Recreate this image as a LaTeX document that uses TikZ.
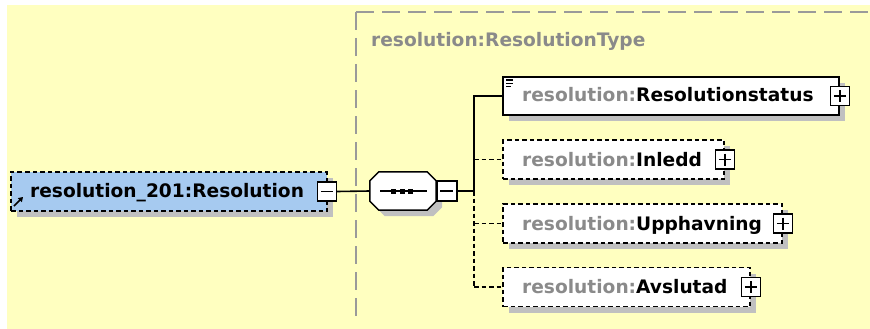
\documentclass[tikz,border=0pt]{standalone}
\usepackage{fontspec}
\setmainfont{DejaVu Sans}
\usetikzlibrary{arrows.meta}
\definecolor{bgyellow}{HTML}{FFFFC0}
\definecolor{elblue}{HTML}{A6CAF0}
\definecolor{shade}{HTML}{C0C0C0}
\definecolor{nsgray}{HTML}{8A8A8A}
\definecolor{framegray}{HTML}{9A9A9A}
\tikzset{
  lbl/.style={font=\bfseries\fontsize{18.6}{22}\selectfont, inner sep=0, anchor=base west},
  shadowed/.style={preaction={fill=shade, transform canvas={xshift=6pt,yshift=-6pt}}},
  elsolid/.style={draw, line width=1.6pt, fill=white, rectangle, inner sep=0, shadowed},
  eldashed/.style={elsolid, dash pattern=on 4.5pt off 3pt},
  pmbox/.style={draw, fill=white, line width=1.4pt, minimum size=19pt, inner sep=0},
  plusbox/.style={pmbox, path picture={\draw[line width=1.4pt]
     ([xshift=3.5pt]path picture bounding box.west) -- ([xshift=-3.5pt]path picture bounding box.east)
     ([yshift=-3.5pt]path picture bounding box.north) -- ([yshift=3.5pt]path picture bounding box.south);}},
  minusbox/.style={pmbox, path picture={\draw[line width=1.4pt]
     ([xshift=3.5pt]path picture bounding box.west) -- ([xshift=-3.5pt]path picture bounding box.east);}},
  conn/.style={line width=1.6pt},
  optconn/.style={conn, dash pattern=on 4.5pt off 3pt},
  framestyle/.style={framegray, line width=2.2pt, dash pattern=on 18pt off 8pt},
}
\begin{document}
\begin{tikzpicture}[x=1pt,y=-1pt]
\useasboundingbox (0,0) rectangle (870,329);
\fill[white] (0,0) rectangle (870,329);
\fill[bgyellow] (7,5) rectangle (870,329);

% type frame
\draw[framestyle] (356,12) -- (356,318);
\draw[framestyle] (356,12) -- (880,12);
\node[lbl, text=nsgray] (title) at (371,47) {resolution:ResolutionType};

% main element
\node[eldashed, fill=elblue, minimum width=316pt, minimum height=39pt] (main) at (169,191.5) {};
\node[lbl] (maintxt) at (30,197.5) {resolution\_201:Resolution};
\draw[line width=1.5pt, -{Triangle[length=4.5pt,width=5.5pt]}] (14,206) -- (23,197);
\node[minusbox] (mainm) at ([xshift=-1pt]main.east) {};

% sequence compositor
\node[minimum width=66pt, minimum height=38pt, inner sep=0] (seq) at (403,191) {};
\draw[line width=1.5pt, fill=white, shadowed]
  ([xshift=9pt]seq.north west) -- ([xshift=-9pt]seq.north east) -- ([yshift=-9pt]seq.north east)
  -- ([yshift=9pt]seq.south east) -- ([xshift=-9pt]seq.south east) -- ([xshift=9pt]seq.south west)
  -- ([yshift=9pt]seq.south west) -- ([yshift=-9pt]seq.north west) -- cycle;
\draw[line width=1.5pt] (380,191) -- (427,191);
\fill (391,188.5) rectangle +(5,5);
\fill (399.5,188.5) rectangle +(5,5);
\fill (408,188.5) rectangle +(5,5);
\node[minusbox, minimum size=20pt, anchor=west] (seqm) at (seq.east) {};

% child elements
\node[elsolid, minimum width=336pt, minimum height=38pt] (rs) at (671,96) {};
\node[lbl] (rstxt) at (522,101.5) {\textcolor{nsgray}{resolution:}Resolutionstatus};
\draw[line width=1pt] (506,80) -- (513,80) (506,83) -- (513,83) (506,86) -- (511,86);
\node[plusbox] (rsp) at (rs.east) {};

\node[eldashed, minimum width=221pt, minimum height=39pt] (inl) at (613.5,159.5) {};
\node[lbl] (inltxt) at (522,166) {\textcolor{nsgray}{resolution:}Inledd};
\node[plusbox] (inlp) at (inl.east) {};

\node[eldashed, minimum width=279pt, minimum height=39pt] (upp) at (642.5,223.5) {};
\node[lbl] (upptxt) at (522,230) {\textcolor{nsgray}{resolution:}Upphavning};
\node[plusbox] (uppp) at (upp.east) {};

\node[eldashed, minimum width=247pt, minimum height=39pt] (avs) at (626.5,287) {};
\node[lbl] (avstxt) at (522,293.5) {\textcolor{nsgray}{resolution:}Avslutad};
\node[plusbox] (avsp) at (avs.east) {};

% connectors
\coordinate (bus) at (474,191);
\draw[conn] (mainm.east) -- (seq.west);
\draw[conn] (seqm.east) -- (bus) |- (rs.west);
\draw[optconn] (bus) -- (bus |- avs.west);
\draw[optconn] (bus |- inl.west) -- (inl.west);
\draw[optconn] (bus |- upp.west) -- (upp.west);
\draw[optconn] (bus |- avs.west) -- (avs.west);
\end{tikzpicture}
\end{document}
